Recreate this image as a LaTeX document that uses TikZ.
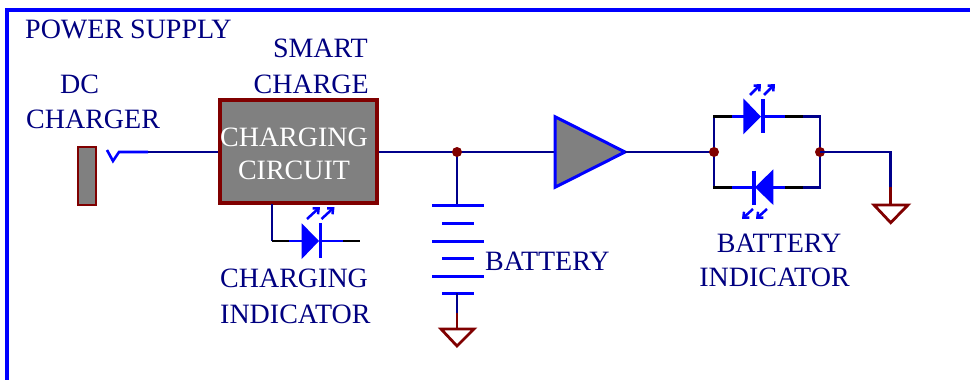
\documentclass[tikz,border=0pt]{standalone}
\usepackage{fontspec}
\setmainfont{Liberation Serif}
\usetikzlibrary{arrows.meta}
\definecolor{wirec}{RGB}{0,0,139}
\definecolor{txtc}{RGB}{0,0,128}
\definecolor{bluec}{RGB}{0,0,255}
\definecolor{dredc}{RGB}{128,0,0}
\definecolor{grayc}{RGB}{128,128,128}
\tikzset{
  wire/.style={draw=wirec, line width=2.8pt},
  bwire/.style={draw=bluec, line width=2.8pt},
  kwire/.style={draw=black, line width=2.8pt},
  rwire/.style={draw=dredc, line width=2.8pt},
  lbl/.style={text=txtc, inner sep=0pt, font=\fontsize{28}{35}\selectfont},
  dot/.style={circle, fill=dredc, inner sep=0pt, minimum size=10pt},
  plate/.style={draw=bluec, line width=3pt},
  ledarrow/.style={draw=bluec, line width=2.5pt, -{Straight Barb[length=4.5pt,width=8pt]}},
}
\begin{document}
\begin{tikzpicture}[x=1pt,y=-1pt]
\useasboundingbox (0,0) rectangle (970,380);
% frame
\draw[bluec, line width=3.2pt] (7,380) -- (7,10) -- (970,10);
% texts
\node[lbl, anchor=base west] (tps) at (25,38) {POWER SUPPLY};
\node[lbl, anchor=base west] (tdc) at (60,93) {DC};
\node[lbl, anchor=base west] (tchg) at (26,128) {CHARGER};
\node[lbl, anchor=base east] (tsm) at (368,57) {SMART};
\node[lbl, anchor=base east] (tsc) at (369,93) {CHARGE};
\node[lbl, anchor=base west] (tci1) at (220,287) {CHARGING};
\node[lbl, anchor=base west] (tci2) at (220,323) {INDICATOR};
\node[lbl, anchor=base west] (tbat) at (485,270) {BATTERY};
\node[lbl, anchor=base] (tbi1) at (779,252) {BATTERY};
\node[lbl, anchor=base] (tbi2) at (774.5,286) {INDICATOR};
% DC jack
\node[draw=dredc, fill=grayc, line width=2.8pt, minimum width=18pt, minimum height=58pt, inner sep=0pt] (jack) at (87,176) {};
\coordinate (pin) at (119,152);
\coordinate (pinend) at (148,152);
\draw[bluec, line width=2.6pt] (107,150) -- (113,161) -- (pin) -- (pinend);
% charging circuit
\node[draw=dredc, fill=grayc, line width=3.2pt, minimum width=157pt, minimum height=103pt, inner sep=0pt] (cc) at (298.5,151.5) {};
\node[text=white, inner sep=0pt, align=center, font=\fontsize{28}{33}\selectfont] (cctext) at (294,154) {CHARGING\\CIRCUIT};
\draw[wire] (pinend) -- (cc.west |- pinend);
% main junction and battery
\coordinate (j1) at (457,152);
\draw[wire] (cc.east |- j1) -- (j1);
\coordinate (ampin) at (555,152);
\coordinate (ampout) at (625,152);
\draw[wire] (j1) -- (ampin);
\draw[draw=bluec, fill=grayc, line width=3pt, line join=miter] (555,116.7) -- (ampout) -- (555,187.3) -- cycle;
\coordinate (bt) at (457,205);
\coordinate (bb) at (457,293);
\draw[wire] (j1) -- (bt);
\draw[plate] (432,205) -- (484,205);
\draw[plate] (442,223) -- (474,223);
\draw[plate] (432,241) -- (484,241);
\draw[plate] (442,258) -- (474,258);
\draw[plate] (432,276) -- (484,276);
\draw[plate] (442,293) -- (474,293);
\coordinate (g1) at (457,329);
\draw[wire] (bb) -- (457,313);
\draw[rwire] (457,313) -- (g1);
\draw[dredc, line width=2.8pt, line join=miter] (441,329) -- (474,329) -- (457,346) -- cycle;
\node[dot] (d1) at (j1) {};
% charging indicator LED
\coordinate (cl) at (272,241);
\draw[wire] (272,204) -- (cl);
\draw[kwire] (cl) -- (289,241);
\draw[bwire] (289,241) -- (302,241);
\fill[bluec] (301.7,223.3) -- (319,241) -- (301.7,259) -- cycle;
\draw[bluec, line width=3.2pt] (320.5,223) -- (320.5,258);
\draw[bwire] (320.5,241) -- (343,241);
\draw[kwire] (343,241) -- (360,241);
\draw[ledarrow] (307,219) -- (320,207);
\draw[ledarrow] (321.5,219) -- (334.5,207);
% output to battery indicator
\coordinate (j2) at (714,152);
\coordinate (j3) at (820,152);
\draw[wire] (ampout) -- (j2);
\draw[wire] (714,115.3) -- (714,188.7);
\draw[wire] (820,115.3) -- (820,188.7);
% top LED
\draw[kwire] (713,116.7) -- (732,116.7);
\draw[bwire] (732,116.7) -- (744,116.7);
\fill[bluec] (743.3,98.3) -- (761,116.7) -- (743.3,134.3) -- cycle;
\draw[bluec, line width=3.2pt] (763,99.3) -- (763,133.3);
\draw[bwire] (763,116.7) -- (785,116.7);
\draw[kwire] (785,116.7) -- (803,116.7);
\draw[wire] (803,116.7) -- (821.4,116.7);
\draw[ledarrow] (750,95) -- (761,84);
\draw[ledarrow] (764,95) -- (775,84);
% bottom LED
\draw[kwire] (713,187.3) -- (732,187.3);
\draw[bwire] (732,187.3) -- (755,187.3);
\draw[bluec, line width=3.2pt] (754,170.7) -- (754,205);
\fill[bluec] (773.3,169.3) -- (755,187.3) -- (773.3,205) -- cycle;
\draw[bwire] (773,187.3) -- (785,187.3);
\draw[kwire] (785,187.3) -- (803,187.3);
\draw[wire] (803,187.3) -- (821.4,187.3);
\draw[ledarrow] (753,209) -- (742,219);
\draw[ledarrow] (767,209) -- (756,219);
\node[dot] (d2) at (j2) {};
\node[dot] (d3) at (j3) {};
% right ground
\coordinate (g2) at (890.7,205);
\draw[wire, line join=miter] (j3) -- (890.7,152) -- (890.7,187.3);
\draw[rwire] (890.7,187.3) -- (g2);
\draw[dredc, line width=2.8pt, line join=miter] (874,205) -- (908,205) -- (890.7,222.7) -- cycle;
\end{tikzpicture}
\end{document}
